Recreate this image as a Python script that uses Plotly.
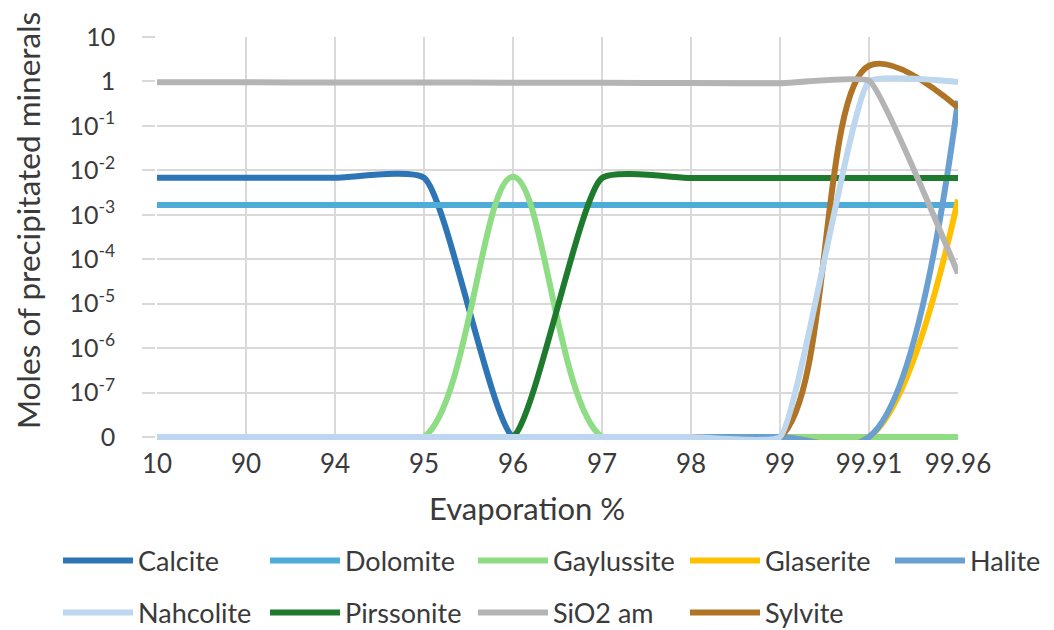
import plotly.graph_objects as go

# ---------------- data ----------------
categories = ["10", "90", "94", "95", "96", "97", "98", "99", "99.91", "99.96"]

calcite    = [6.8e-3, 6.8e-3, 6.8e-3, 6.8e-3, 0, 0, 0, 0, 0, 0]
dolomite   = [1.65e-3] * 10
gaylussite = [0, 0, 0, 0, 7.2e-3, 0, 0, 0, 0, 0]
glaserite  = [0, 0, 0, 0, 0, 0, 0, 0, 0, 2.2e-3]
halite     = [0, 0, 0, 0, 0, 0, 0, 0, 0, 0.37]
nahcolite  = [0, 0, 0, 0, 0, 0, 0, 0, 1.0, 0.97]
pirssonite = [0, 0, 0, 0, 0, 6.7e-3, 6.7e-3, 6.7e-3, 6.7e-3, 6.7e-3]
sio2_am    = [0.96, 0.955, 0.95, 0.945, 0.94, 0.93, 0.92, 0.91, 1.05, 4.8e-5]
sylvite    = [0, 0, 0, 0, 0, 0, 0, 0, 2.25, 0.26]

series_names = ["Calcite", "Dolomite", "Gaylussite", "Glaserite", "Halite",
                "Nahcolite", "Pirssonite", "SiO2 am", "Sylvite"]
series_values = [calcite, dolomite, gaylussite, glaserite, halite,
                 nahcolite, pirssonite, sio2_am, sylvite]
series_colors = ["#2E75B6", "#4EACD8", "#8EDC84", "#FFC000", "#6A9FD2",
                 "#BDD7EE", "#1E7B2E", "#B4B4B4", "#B07426"]
series_smooth = [0.5, 1.0, 1.0, 1.0, 1.0, 0.35, 0.5, 0.3, 1.0]
series_layer  = [0, 0, 0, 0, 0, 1, 0, 2, 0]

y_tick_values = [1e-8, 1e-7, 1e-6, 1e-5, 1e-4, 1e-3, 1e-2, 1e-1, 1, 10]
y_tick_labels = ["0", "10<sup>-7</sup>", "10<sup>-6</sup>", "10<sup>-5</sup>",
                 "10<sup>-4</sup>", "10<sup>-3</sup>", "10<sup>-2</sup>",
                 "10<sup>-1</sup>", "1", "10"]
ZERO_LEVEL = 1e-8  # the "0" tick of the chart

FONT = "Lato"
TXT = "#3A3A3A"
GRID = "#D9D9D9"

# The page body adds an 8px offset, so the figure is sized to fill the rest
OFF = 8
W, H = 1054 - OFF, 630 - OFF
# target positions in window pixels
PL, PR, PT, ZERO_Y = 157, 958, 37, 437
DEC = (ZERO_Y - PT) / 9.0          # px per decade
PB = ZERO_Y + 3                    # plot bottom (a bit below the "0" line)
L, R, T, B = PL - OFF, W - (PR - OFF), PT - OFF, H - (PB - OFF)
ybot = -8 - (PB - ZERO_Y) / DEC
PH = PB - PT
PW = PR - PL

# legend grid (window pixel positions of each entry's line start / row centre)
LEG_COLS = [63, 270, 478, 690, 895]
LEG_ROWS = [561, 613]

fig = go.Figure()
legend_layouts = {}
for i, (name, vals, col, sm, z) in enumerate(zip(series_names, series_values, series_colors,
                                                 series_smooth, series_layer)):
    y = [None if v is None else (ZERO_LEVEL if v == 0 else v) for v in vals]
    lid = "legend" if i == 0 else f"legend{i + 1}"
    fig.add_trace(go.Scatter(
        x=categories, y=y, name=name, mode="lines",
        line=dict(color=col, width=6, shape="spline", smoothing=sm),
        zorder=z, legend=lid,
    ))
    cx = LEG_COLS[i % 5] - OFF
    cy = LEG_ROWS[i // 5] - OFF
    legend_layouts[lid] = dict(
        orientation="h", xref="container", yref="container",
        x=(cx - 5) / W, xanchor="left",
        y=1 - cy / H, yanchor="middle",
        font=dict(size=27, color=TXT, family=FONT), itemwidth=70,
        bgcolor="rgba(0,0,0,0)",
    )

fig.update_layout(
    width=W, height=H, autosize=False,
    margin=dict(l=L, r=R, t=T, b=B),
    paper_bgcolor="white", plot_bgcolor="white",
    font=dict(family=FONT, color=TXT, size=24),
    xaxis=dict(
        type="category", range=[0, 9],
        showgrid=True, gridcolor=GRID, gridwidth=1.5,
        showline=False, zeroline=False, ticks="",
        tickfont=dict(size=26, color=TXT), ticklabelstandoff=6,
    ),
    yaxis=dict(
        type="log", range=[ybot, 1],
        tickvals=y_tick_values, ticktext=y_tick_labels,
        showgrid=True, gridcolor=GRID, gridwidth=1.5,
        showline=True, linecolor=GRID, linewidth=1.5,
        ticks="outside", ticklen=13, tickcolor=GRID, tickwidth=1.5,
        tickfont=dict(size=25, color=TXT), ticklabelstandoff=22,
        zeroline=False,
    ),
    showlegend=True,
    **legend_layouts,
)

fig.add_annotation(
    text="Evaporation %", xref="paper", yref="paper",
    x=(527 - PL) / PW, y=(PB - 508) / PH,
    xanchor="center", yanchor="middle", showarrow=False,
    font=dict(size=31, color=TXT, family=FONT),
)
fig.add_annotation(
    text="Moles of precipitated minerals", xref="paper", yref="paper",
    x=(28 - PL) / PW, y=(PB - 221) / PH,
    xanchor="center", yanchor="middle", showarrow=False, textangle=-90,
    font=dict(size=31.5, color=TXT, family=FONT),
)

fig.write_html("out.html")
